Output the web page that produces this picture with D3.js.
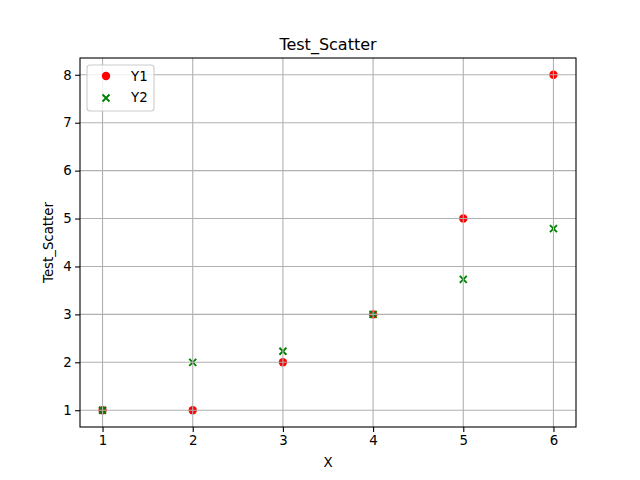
<!DOCTYPE html>
<html><head><meta charset="utf-8">
<script src="https://cdn.jsdelivr.net/npm/d3@7"></script>
<style>body{margin:0;background:#fff}svg{display:block;font-family:"DejaVu Sans",sans-serif}</style>
</head><body>
<script>
const xValues = [1, 2, 3, 4, 5, 6];
const y1Values = [1, 1, 2, 3, 5, 8];
const y2Values = [1, 2, 2.23, 3, 3.73, 4.79];
const xTicks = [1, 2, 3, 4, 5, 6];
const yTicks = [1, 2, 3, 4, 5, 6, 7, 8];
const seriesNames = ["Y1", "Y2"];

const W = 640, H = 480;
const m = {l: 80, r: 576, t: 58, b: 427};
const svg = d3.select("body").append("svg").attr("width", W).attr("height", H);
const x = d3.scaleLinear().domain([0.75, 6.25]).range([m.l, m.r]);
const y = d3.scaleLinear().domain([0.65, 8.35]).range([m.b, m.t]);

const R = 4.2, s = 3.5, SW = 1.9;
// markers
const g = svg.append("g");
g.selectAll("circle").data(xValues).join("circle")
  .attr("cx", (d) => x(d)).attr("cy", (d, i) => y(y1Values[i])).attr("r", R).attr("fill", "red");
g.selectAll("path.x").data(xValues).join("path").attr("class", "x")
  .attr("d", (d, i) => { const cx = x(d), cy = y(y2Values[i]);
    return `M${cx-s},${cy-s}L${cx+s},${cy+s}M${cx-s},${cy+s}L${cx+s},${cy-s}`; })
  .attr("stroke", "green").attr("stroke-width", SW).attr("fill", "none");

// grid
const grid = svg.append("g").attr("stroke", "#b0b0b0").attr("stroke-width", 1.1);
grid.selectAll("line.v").data(xTicks).join("line").attr("class", "v")
  .attr("x1", d => x(d)).attr("x2", d => x(d)).attr("y1", m.t).attr("y2", m.b);
grid.selectAll("line.h").data(yTicks).join("line").attr("class", "h")
  .attr("y1", d => y(d)).attr("y2", d => y(d)).attr("x1", m.l).attr("x2", m.r);

// axes
const xa = svg.append("g").attr("transform", `translate(0,${m.b})`)
  .call(d3.axisBottom(x).tickValues(xTicks).tickSize(4.9).tickPadding(3.5).tickFormat(d3.format("d")));
const ya = svg.append("g").attr("transform", `translate(${m.l},0)`)
  .call(d3.axisLeft(y).tickValues(yTicks).tickSize(4.9).tickPadding(3.5).tickFormat(d3.format("d")));
[xa, ya].forEach(a => { a.select(".domain").remove(); a.selectAll("text").attr("font-size", 13.33).attr("fill", "#000").attr("font-family", "DejaVu Sans"); a.selectAll("line").attr("stroke", "#000").attr("stroke-width", 1.1); });

svg.append("rect").attr("x", m.l).attr("y", m.t).attr("width", m.r - m.l).attr("height", m.b - m.t)
  .attr("fill", "none").attr("stroke", "#000").attr("stroke-width", 1.1);

// labels
svg.append("text").attr("x", (m.l + m.r) / 2).attr("y", 50).attr("text-anchor", "middle")
  .attr("font-size", 16).text("Test_Scatter");
svg.append("text").attr("x", (m.l + m.r) / 2).attr("y", 467).attr("text-anchor", "middle")
  .attr("font-size", 13.33).text("X");
svg.append("text").attr("transform", `translate(53,${(m.t + m.b) / 2}) rotate(-90)`).attr("text-anchor", "middle")
  .attr("font-size", 13.33).text("Test_Scatter");

// legend
const lg = svg.append("g");
lg.append("rect").attr("x", 87).attr("y", 65).attr("width", 67).attr("height", 46).attr("rx", 3)
  .attr("fill", "#fff").attr("fill-opacity", 0.8).attr("stroke", "#cccccc").attr("stroke-width", 1.1);
lg.append("circle").attr("cx", 106).attr("cy", 76).attr("r", R).attr("fill", "red");
lg.append("path").attr("d", `M${106-s},${98-s}L${106+s},${98+s}M${106-s},${98+s}L${106+s},${98-s}`)
  .attr("stroke", "green").attr("stroke-width", SW);
lg.selectAll("text").data(seriesNames).join("text").attr("x", 131).attr("y", (d, i) => 81 + i * 21)
  .attr("font-size", 13.33).text(d => d);
</script>
</body></html>
